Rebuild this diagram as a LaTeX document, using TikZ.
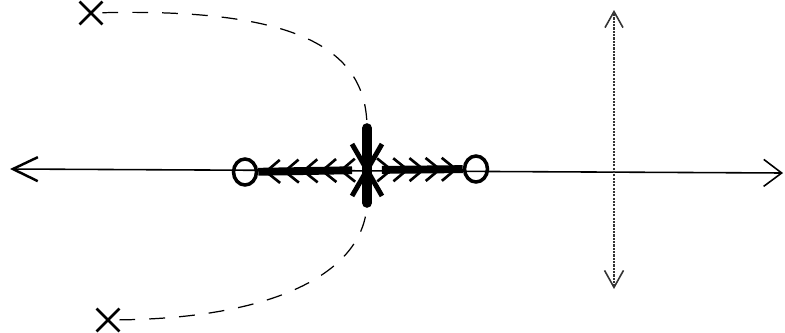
\documentclass[tikz,border=0pt]{standalone}
\usetikzlibrary{arrows.meta, shapes.geometric, shapes.misc, decorations.markings}
\tikzset{
	pole/.style={cross out, draw=black, line width=1.6pt, minimum size=0.4cm, inner sep=0pt},
	zero/.style={ellipse, draw=black, line width=2pt, minimum width=0.46cm, minimum height=0.52cm, inner sep=0pt},
	breakx/.style={cross out, draw=black, line width=2.8pt, minimum width=0.5cm, minimum height=0.94cm, inner sep=0pt},
	bar/.style={line width=5.5pt, line cap=round},
	realaxis/.style={line width=0.9pt, {Straight Barb[length=3.6mm, width=5.4mm]}-{Straight Barb[length=5mm, width=4.8mm, line width=1.4pt]}},
	imaxis/.style={line width=0.8pt, draw=black!80, dash pattern=on 1.2pt off 0.7pt, {Straight Barb[length=3.4mm, width=3.8mm, line width=0.9pt]}-{Straight Barb[length=3.2mm, width=3.6mm, line width=0.9pt]}},
	locus/.style={line width=0.7pt, dash pattern=on 9pt off 8pt},
	branch/.style={line width=4.5pt, postaction={decorate}, decoration={markings, mark=between positions 0.14 and 0.94 step 0.2 with {\arrow{Straight Barb[length=2.8mm, width=4.6mm, line width=1.5pt]}}}},
}
\begin{document}
\begin{tikzpicture}[x=0.02cm, y=-0.02cm]
	\useasboundingbox (0,0) rectangle (785,332);
	\coordinate (west) at (10,169);
	\coordinate (east) at (783,173);
	\coordinate (north) at (614,10);
	\coordinate (south) at (614,289);
	\draw[realaxis] (east) -- (west);
	\draw[imaxis] (south) -- (north);
	\node[pole] (ptop) at (91,13) {};
	\node[pole] (pbot) at (108,320) {};
	\node[zero] (zl) at (245,172) {};
	\node[zero] (zr) at (476,169) {};
	\node[breakx] (brk) at (367,170) {};
	\coordinate (bt) at (367,128);
	\coordinate (bb) at (367,203);
	\draw[bar] (bt) -- (bb);
	\draw[branch] (brk) -- (zl);
	\draw[branch] (brk) -- (zr);
	\draw[locus] (ptop) .. controls (300,8) and (367,50) .. (bt);
	\draw[locus] (pbot) .. controls (280,318) and (365,270) .. (bb);
\end{tikzpicture}
\end{document}
